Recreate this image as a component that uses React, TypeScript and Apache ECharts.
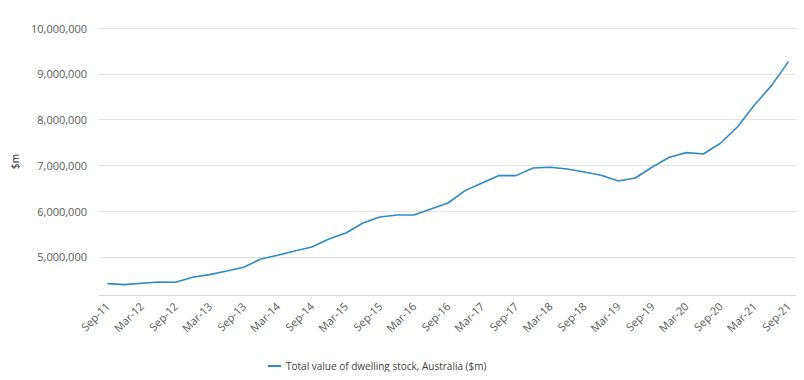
import React, { useEffect, useRef } from "react";
import * as echarts from "echarts";

const quarters: string[] = [
  "Sep-11", "Dec-11", "Mar-12", "Jun-12", "Sep-12", "Dec-12", "Mar-13", "Jun-13",
  "Sep-13", "Dec-13", "Mar-14", "Jun-14", "Sep-14", "Dec-14", "Mar-15", "Jun-15",
  "Sep-15", "Dec-15", "Mar-16", "Jun-16", "Sep-16", "Dec-16", "Mar-17", "Jun-17",
  "Sep-17", "Dec-17", "Mar-18", "Jun-18", "Sep-18", "Dec-18", "Mar-19", "Jun-19",
  "Sep-19", "Dec-19", "Mar-20", "Jun-20", "Sep-20", "Dec-20", "Mar-21", "Jun-21",
  "Sep-21",
];

const dwellingValue: number[] = [
  4419000, 4397000, 4426000, 4454000, 4448000, 4557000, 4615000, 4694000,
  4775000, 4957000, 5037000, 5131000, 5218000, 5393000, 5524000, 5742000,
  5873000, 5917000, 5917000, 6050000, 6179000, 6449000, 6616000, 6777000,
  6777000, 6943000, 6959000, 6922000, 6856000, 6784000, 6659000, 6725000,
  6965000, 7177000, 7279000, 7249000, 7483000, 7839000, 8319000, 8742000,
  9266000,
];

const yTicks: number[] = [5000000, 6000000, 7000000, 8000000, 9000000, 10000000];
const yMin = 4170000;
const yMax = 10000000;

const seriesName = "Total value of dwelling stock, Australia ($m)";
const yAxisName = "$m";

export default function App() {
  const ref = useRef<HTMLDivElement>(null);
  useEffect(() => {
    if (!ref.current) return;
    const chart = echarts.init(ref.current, undefined, { renderer: "svg" });
    const font = "'Open Sans', 'Noto Sans', sans-serif";
    chart.setOption({
      animation: false,
      textStyle: { fontFamily: font },
      grid: { left: 99, right: 7, top: 28, bottom: 85, containLabel: false },
      legend: {
        bottom: 4,
        left: 263,
        icon: "rect",
        itemWidth: 13,
        itemHeight: 2,
        itemGap: 6,
        textStyle: { fontSize: 10, color: "#404040", fontFamily: font },
        data: [seriesName],
      },
      xAxis: {
        type: "category",
        data: quarters,
        boundaryGap: true,
        axisLine: { show: true, lineStyle: { color: "#d9d9d9", width: 1 } },
        axisTick: { show: false },
        axisLabel: {
          interval: 1,
          rotate: 45,
          margin: 9,
          fontSize: 11,
          color: "#595959",
          fontFamily: font,
        },
        splitLine: { show: false },
      },
      yAxis: {
        type: "value",
        min: yMin,
        max: yMax,
        name: yAxisName,
        nameLocation: "middle",
        nameGap: 73,
        nameRotate: 90,
        nameTextStyle: { fontSize: 10, color: "#262626", fontFamily: font },
        axisLine: { show: false },
        axisTick: { show: false, customValues: yTicks },
        axisLabel: {
          customValues: yTicks,
          margin: 12,
          fontSize: 11,
          color: "#595959",
          fontFamily: font,
          formatter: (v: number) => v.toLocaleString("en-US"),
        },
        splitLine: { show: true, lineStyle: { color: "#e3e3e3", width: 1 } },
      },
      series: [
        {
          name: seriesName,
          type: "line",
          data: dwellingValue,
          symbol: "none",
          lineStyle: { color: "#2f89c2", width: 1.6 },
          itemStyle: { color: "#2f89c2" },
        },
      ],
    });
    return () => chart.dispose();
  }, []);
  return <div ref={ref} style={{ width: 804, height: 380, margin: -8 }} />;
}
